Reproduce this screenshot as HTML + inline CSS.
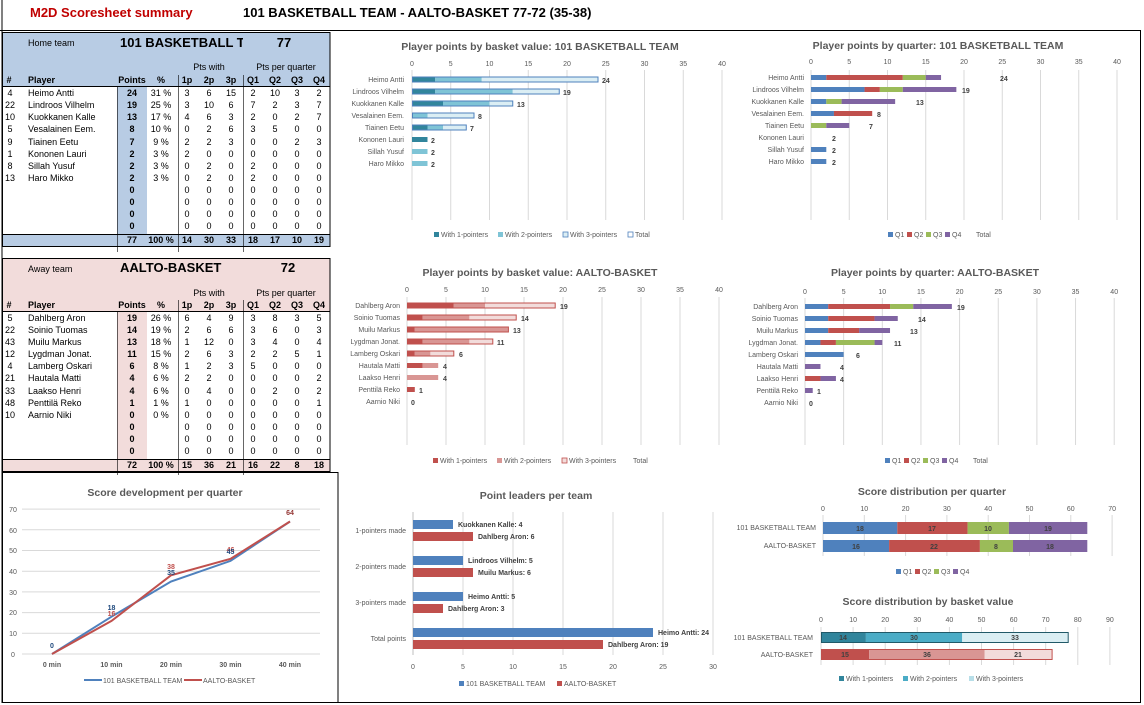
<!DOCTYPE html>
<html><head><meta charset="utf-8"><style>
html,body{margin:0;padding:0;background:#fff}
svg{display:block;font-family:"Liberation Sans",sans-serif}
.t{font-size:9px;fill:#000}
.b{font-weight:bold}
.ax{font-size:7px;fill:#595959}
.ti{font-size:10.5px;font-weight:bold;fill:#595959}
.dl{font-size:7px;font-weight:bold;fill:#404040}
.g{stroke:#d9d9d9;stroke-width:1}
</style></head><body>
<svg width="1144" height="705" viewBox="0 0 1144 705" xmlns="http://www.w3.org/2000/svg">
<rect width="1144" height="705" fill="#fff"/>
<!-- frame -->
<line x1="2" y1="0" x2="2" y2="703" stroke="#000"/>
<line x1="0" y1="30.5" x2="1140" y2="30.5" stroke="#000"/>
<line x1="1140.5" y1="30" x2="1140.5" y2="703" stroke="#000"/>
<line x1="2" y1="702.5" x2="1141" y2="702.5" stroke="#000"/>
<text x="30" y="17" font-size="13" font-weight="bold" fill="#c00000">M2D Scoresheet summary</text>
<text x="243" y="17" font-size="13" font-weight="bold" fill="#000">101 BASKETBALL TEAM - AALTO-BASKET 77-72 (35-38)</text>

<!-- HOME TABLE -->
<rect x="2" y="32" width="328" height="54" fill="#b8cce4"/>
<rect x="117" y="86" width="30" height="148" fill="#b8cce4"/>
<rect x="2" y="234" width="328" height="12" fill="#b8cce4"/>
<rect x="2.5" y="32.5" width="327.5" height="214" fill="none" stroke="#000"/>
<line x1="2" y1="86.5" x2="330" y2="86.5" stroke="#000"/>
<line x1="2" y1="234.5" x2="330" y2="234.5" stroke="#000"/>
<line x1="117.5" y1="86" x2="117.5" y2="252" stroke="#000" stroke-width=".6"/>
<line x1="178.5" y1="75" x2="178.5" y2="252" stroke="#000" stroke-width=".6"/>
<line x1="243.5" y1="75" x2="243.5" y2="252" stroke="#000" stroke-width=".6"/>
<text x="28" y="46" font-size="9" fill="#000">Home team</text>
<text x="120" y="47" font-size="13" font-weight="bold">101 BASKETBALL TEAM</text>
<rect x="243" y="35" width="86" height="16" fill="#b8cce4"/>
<text x="284" y="47" font-size="13" font-weight="bold" text-anchor="middle">77</text>
<text x="209" y="70" class="t" text-anchor="middle" fill="#262626">Pts with</text>
<text x="286" y="70" class="t" text-anchor="middle">Pts per quarter</text>
<g class="t b" text-anchor="middle">
<text x="9" y="83">#</text><text x="28" y="83" text-anchor="start">Player</text><text x="132" y="83">Points</text><text x="161" y="83">%</text>
<text x="187" y="83">1p</text><text x="209" y="83">2p</text><text x="231" y="83">3p</text><text x="253" y="83">Q1</text><text x="275" y="83">Q2</text><text x="297" y="83">Q3</text><text x="319" y="83">Q4</text>
</g>
<g class="t" text-anchor="middle">
<g transform="translate(0,96)"><text x="10">4</text><text x="28" text-anchor="start">Heimo Antti</text><text x="132" class="b">24</text><text x="161">31 %</text><text x="187">3</text><text x="209">6</text><text x="231">15</text><text x="253">2</text><text x="275">10</text><text x="297">3</text><text x="319">2</text></g>
<g transform="translate(0,108)"><text x="10">22</text><text x="28" text-anchor="start">Lindroos Vilhelm</text><text x="132" class="b">19</text><text x="161">25 %</text><text x="187">3</text><text x="209">10</text><text x="231">6</text><text x="253">7</text><text x="275">2</text><text x="297">3</text><text x="319">7</text></g>
<g transform="translate(0,120)"><text x="10">10</text><text x="28" text-anchor="start">Kuokkanen Kalle</text><text x="132" class="b">13</text><text x="161">17 %</text><text x="187">4</text><text x="209">6</text><text x="231">3</text><text x="253">2</text><text x="275">0</text><text x="297">2</text><text x="319">7</text></g>
<g transform="translate(0,132)"><text x="10">5</text><text x="28" text-anchor="start">Vesalainen Eem.</text><text x="132" class="b">8</text><text x="161">10 %</text><text x="187">0</text><text x="209">2</text><text x="231">6</text><text x="253">3</text><text x="275">5</text><text x="297">0</text><text x="319">0</text></g>
<g transform="translate(0,145)"><text x="10">9</text><text x="28" text-anchor="start">Tiainen Eetu</text><text x="132" class="b">7</text><text x="161">9 %</text><text x="187">2</text><text x="209">2</text><text x="231">3</text><text x="253">0</text><text x="275">0</text><text x="297">2</text><text x="319">3</text></g>
<g transform="translate(0,157)"><text x="10">1</text><text x="28" text-anchor="start">Kononen Lauri</text><text x="132" class="b">2</text><text x="161">3 %</text><text x="187">2</text><text x="209">0</text><text x="231">0</text><text x="253">0</text><text x="275">0</text><text x="297">0</text><text x="319">0</text></g>
<g transform="translate(0,169)"><text x="10">8</text><text x="28" text-anchor="start">Sillah Yusuf</text><text x="132" class="b">2</text><text x="161">3 %</text><text x="187">0</text><text x="209">2</text><text x="231">0</text><text x="253">2</text><text x="275">0</text><text x="297">0</text><text x="319">0</text></g>
<g transform="translate(0,181)"><text x="10">13</text><text x="28" text-anchor="start">Haro Mikko</text><text x="132" class="b">2</text><text x="161">3 %</text><text x="187">0</text><text x="209">2</text><text x="231">0</text><text x="253">2</text><text x="275">0</text><text x="297">0</text><text x="319">0</text></g>
<g transform="translate(0,193)"><text x="132" class="b">0</text><text x="187">0</text><text x="209">0</text><text x="231">0</text><text x="253">0</text><text x="275">0</text><text x="297">0</text><text x="319">0</text></g>
<g transform="translate(0,205)"><text x="132" class="b">0</text><text x="187">0</text><text x="209">0</text><text x="231">0</text><text x="253">0</text><text x="275">0</text><text x="297">0</text><text x="319">0</text></g>
<g transform="translate(0,217)"><text x="132" class="b">0</text><text x="187">0</text><text x="209">0</text><text x="231">0</text><text x="253">0</text><text x="275">0</text><text x="297">0</text><text x="319">0</text></g>
<g transform="translate(0,229)"><text x="132" class="b">0</text><text x="187">0</text><text x="209">0</text><text x="231">0</text><text x="253">0</text><text x="275">0</text><text x="297">0</text><text x="319">0</text></g>
<g transform="translate(0,243)" class="b"><text x="132">77</text><text x="161">100 %</text><text x="187">14</text><text x="209">30</text><text x="231">33</text><text x="253">18</text><text x="275">17</text><text x="297">10</text><text x="319">19</text></g>
</g>

<!-- AWAY TABLE -->
<rect x="2" y="258" width="328" height="53" fill="#f2dcdb"/>
<rect x="117" y="311" width="30" height="148" fill="#f2dcdb"/>
<rect x="2" y="459" width="328" height="12" fill="#f2dcdb"/>
<rect x="2.5" y="258.5" width="327.5" height="213" fill="none" stroke="#000"/>
<line x1="2" y1="311.5" x2="330" y2="311.5" stroke="#000"/>
<line x1="2" y1="459.5" x2="330" y2="459.5" stroke="#000"/>
<line x1="117.5" y1="311" x2="117.5" y2="475" stroke="#000" stroke-width=".6"/>
<line x1="178.5" y1="300" x2="178.5" y2="475" stroke="#000" stroke-width=".6"/>
<line x1="243.5" y1="300" x2="243.5" y2="475" stroke="#000" stroke-width=".6"/>
<text x="28" y="272" font-size="9">Away team</text>
<text x="120" y="272" font-size="13" font-weight="bold">AALTO-BASKET</text>
<text x="288" y="272" font-size="13" font-weight="bold" text-anchor="middle">72</text>
<text x="209" y="296" class="t" text-anchor="middle">Pts with</text>
<text x="286" y="296" class="t" text-anchor="middle">Pts per quarter</text>
<g class="t b" text-anchor="middle">
<text x="9" y="308">#</text><text x="28" y="308" text-anchor="start">Player</text><text x="132" y="308">Points</text><text x="161" y="308">%</text>
<text x="187" y="308">1p</text><text x="209" y="308">2p</text><text x="231" y="308">3p</text><text x="253" y="308">Q1</text><text x="275" y="308">Q2</text><text x="297" y="308">Q3</text><text x="319" y="308">Q4</text>
</g>
<g class="t" text-anchor="middle">
<g transform="translate(0,321)"><text x="10">5</text><text x="28" text-anchor="start">Dahlberg Aron</text><text x="132" class="b">19</text><text x="161">26 %</text><text x="187">6</text><text x="209">4</text><text x="231">9</text><text x="253">3</text><text x="275">8</text><text x="297">3</text><text x="319">5</text></g>
<g transform="translate(0,333)"><text x="10">22</text><text x="28" text-anchor="start">Soinio Tuomas</text><text x="132" class="b">14</text><text x="161">19 %</text><text x="187">2</text><text x="209">6</text><text x="231">6</text><text x="253">3</text><text x="275">6</text><text x="297">0</text><text x="319">3</text></g>
<g transform="translate(0,345)"><text x="10">43</text><text x="28" text-anchor="start">Muilu Markus</text><text x="132" class="b">13</text><text x="161">18 %</text><text x="187">1</text><text x="209">12</text><text x="231">0</text><text x="253">3</text><text x="275">4</text><text x="297">0</text><text x="319">4</text></g>
<g transform="translate(0,357)"><text x="10">12</text><text x="28" text-anchor="start">Lygdman Jonat.</text><text x="132" class="b">11</text><text x="161">15 %</text><text x="187">2</text><text x="209">6</text><text x="231">3</text><text x="253">2</text><text x="275">2</text><text x="297">5</text><text x="319">1</text></g>
<g transform="translate(0,369)"><text x="10">4</text><text x="28" text-anchor="start">Lamberg Oskari</text><text x="132" class="b">6</text><text x="161">8 %</text><text x="187">1</text><text x="209">2</text><text x="231">3</text><text x="253">5</text><text x="275">0</text><text x="297">0</text><text x="319">0</text></g>
<g transform="translate(0,381)"><text x="10">21</text><text x="28" text-anchor="start">Hautala Matti</text><text x="132" class="b">4</text><text x="161">6 %</text><text x="187">2</text><text x="209">2</text><text x="231">0</text><text x="253">0</text><text x="275">0</text><text x="297">0</text><text x="319">2</text></g>
<g transform="translate(0,394)"><text x="10">33</text><text x="28" text-anchor="start">Laakso Henri</text><text x="132" class="b">4</text><text x="161">6 %</text><text x="187">0</text><text x="209">4</text><text x="231">0</text><text x="253">0</text><text x="275">2</text><text x="297">0</text><text x="319">2</text></g>
<g transform="translate(0,406)"><text x="10">48</text><text x="28" text-anchor="start">Penttilä Reko</text><text x="132" class="b">1</text><text x="161">1 %</text><text x="187">1</text><text x="209">0</text><text x="231">0</text><text x="253">0</text><text x="275">0</text><text x="297">0</text><text x="319">1</text></g>
<g transform="translate(0,418)"><text x="10">10</text><text x="28" text-anchor="start">Aarnio Niki</text><text x="132" class="b">0</text><text x="161">0 %</text><text x="187">0</text><text x="209">0</text><text x="231">0</text><text x="253">0</text><text x="275">0</text><text x="297">0</text><text x="319">0</text></g>
<g transform="translate(0,430)"><text x="132" class="b">0</text><text x="187">0</text><text x="209">0</text><text x="231">0</text><text x="253">0</text><text x="275">0</text><text x="297">0</text><text x="319">0</text></g>
<g transform="translate(0,442)"><text x="132" class="b">0</text><text x="187">0</text><text x="209">0</text><text x="231">0</text><text x="253">0</text><text x="275">0</text><text x="297">0</text><text x="319">0</text></g>
<g transform="translate(0,454)"><text x="132" class="b">0</text><text x="187">0</text><text x="209">0</text><text x="231">0</text><text x="253">0</text><text x="275">0</text><text x="297">0</text><text x="319">0</text></g>
<g transform="translate(0,468)" class="b"><text x="132">72</text><text x="161">100 %</text><text x="187">15</text><text x="209">36</text><text x="231">21</text><text x="253">16</text><text x="275">22</text><text x="297">8</text><text x="319">18</text></g>
</g>

<!-- CHART 1 -->
<text x="540" y="50" class="ti" text-anchor="middle">Player points by basket value: 101 BASKETBALL TEAM</text>
<g class="g"><line x1="412" y1="70" x2="412" y2="220"/><line x1="450.75" y1="70" x2="450.75" y2="220"/><line x1="489.5" y1="70" x2="489.5" y2="220"/><line x1="528.25" y1="70" x2="528.25" y2="220"/><line x1="567" y1="70" x2="567" y2="220"/><line x1="605.75" y1="70" x2="605.75" y2="220"/><line x1="644.5" y1="70" x2="644.5" y2="220"/><line x1="683.25" y1="70" x2="683.25" y2="220"/><line x1="722" y1="70" x2="722" y2="220"/></g>
<g class="ax" text-anchor="middle"><text x="412" y="66">0</text><text x="450.75" y="66">5</text><text x="489.5" y="66">10</text><text x="528.25" y="66">15</text><text x="567" y="66">20</text><text x="605.75" y="66">25</text><text x="644.5" y="66">30</text><text x="683.25" y="66">35</text><text x="722" y="66">40</text></g>
<g class="ax" text-anchor="end"><text x="404" y="82">Heimo Antti</text><text x="404" y="94">Lindroos Vilhelm</text><text x="404" y="106">Kuokkanen Kalle</text><text x="404" y="118">Vesalainen Eem.</text><text x="404" y="130">Tiainen Eetu</text><text x="404" y="142">Kononen Lauri</text><text x="404" y="154">Sillah Yusuf</text><text x="404" y="166">Haro Mikko</text></g>
<g>
<rect x="412" y="77" width="23.25" height="5" fill="#31859c"/><rect x="435.25" y="77" width="46.5" height="5" fill="#7fc4d6"/><rect x="481.75" y="77" width="116.25" height="5" fill="#dbeef4"/><rect x="412.5" y="77" width="185.5" height="5" fill="none" stroke="#4f81bd"/>
<rect x="412" y="89" width="23.25" height="5" fill="#31859c"/><rect x="435.25" y="89" width="77.5" height="5" fill="#7fc4d6"/><rect x="512.75" y="89" width="46.5" height="5" fill="#dbeef4"/><rect x="412.5" y="89" width="146.75" height="5" fill="none" stroke="#4f81bd"/>
<rect x="412" y="101" width="31" height="5" fill="#31859c"/><rect x="443" y="101" width="46.5" height="5" fill="#7fc4d6"/><rect x="489.5" y="101" width="23.25" height="5" fill="#dbeef4"/><rect x="412.5" y="101" width="100.25" height="5" fill="none" stroke="#4f81bd"/>
<rect x="412" y="113" width="15.5" height="5" fill="#7fc4d6"/><rect x="427.5" y="113" width="46.5" height="5" fill="#dbeef4"/><rect x="412.5" y="113" width="61.5" height="5" fill="none" stroke="#4f81bd"/>
<rect x="412" y="125" width="15.5" height="5" fill="#31859c"/><rect x="427.5" y="125" width="15.5" height="5" fill="#7fc4d6"/><rect x="443" y="125" width="23.25" height="5" fill="#dbeef4"/><rect x="412.5" y="125" width="53.75" height="5" fill="none" stroke="#4f81bd"/>
<rect x="412" y="137" width="15.5" height="5" fill="#31859c"/>
<rect x="412" y="149" width="15.5" height="5" fill="#7fc4d6"/><rect x="412" y="161" width="15.5" height="5" fill="#7fc4d6"/>
</g>
<g class="dl"><text x="602" y="83">24</text><text x="563" y="95">19</text><text x="517" y="107">13</text><text x="478" y="119">8</text><text x="470" y="131">7</text><text x="431" y="143">2</text><text x="431" y="155">2</text><text x="431" y="167">2</text></g>
<g class="ax"><rect x="434" y="232" width="5" height="5" fill="#31859c"/><text x="441" y="237">With 1-pointers</text><rect x="498" y="232" width="5" height="5" fill="#7fc4d6"/><text x="505" y="237">With 2-pointers</text><rect x="563" y="232" width="5" height="5" fill="#dbeef4" stroke="#4f81bd" stroke-width=".8"/><text x="570" y="237">With 3-pointers</text><rect x="628" y="232" width="5" height="5" fill="#fff" stroke="#4f81bd" stroke-width=".8"/><text x="635" y="237">Total</text></g>

<!-- CHART 2 -->
<text x="938" y="49" class="ti" text-anchor="middle">Player points by quarter: 101 BASKETBALL TEAM</text>
<g class="g"><line x1="811" y1="70" x2="811" y2="220"/><line x1="849.25" y1="70" x2="849.25" y2="220"/><line x1="887.5" y1="70" x2="887.5" y2="220"/><line x1="925.75" y1="70" x2="925.75" y2="220"/><line x1="964" y1="70" x2="964" y2="220"/><line x1="1002.25" y1="70" x2="1002.25" y2="220"/><line x1="1040.5" y1="70" x2="1040.5" y2="220"/><line x1="1078.75" y1="70" x2="1078.75" y2="220"/><line x1="1117" y1="70" x2="1117" y2="220"/></g>
<g class="ax" text-anchor="middle"><text x="811" y="64">0</text><text x="849.25" y="64">5</text><text x="887.5" y="64">10</text><text x="925.75" y="64">15</text><text x="964" y="64">20</text><text x="1002.25" y="64">25</text><text x="1040.5" y="64">30</text><text x="1078.75" y="64">35</text><text x="1117" y="64">40</text></g>
<g class="ax" text-anchor="end"><text x="804" y="80">Heimo Antti</text><text x="804" y="92">Lindroos Vilhelm</text><text x="804" y="104">Kuokkanen Kalle</text><text x="804" y="116">Vesalainen Eem.</text><text x="804" y="128">Tiainen Eetu</text><text x="804" y="140">Kononen Lauri</text><text x="804" y="152">Sillah Yusuf</text><text x="804" y="164">Haro Mikko</text></g>
<g>
<rect x="811" y="75" width="15.3" height="5" fill="#4f81bd"/><rect x="826.3" y="75" width="76.5" height="5" fill="#c0504d"/><rect x="902.8" y="75" width="22.95" height="5" fill="#9bbb59"/><rect x="925.75" y="75" width="15.3" height="5" fill="#8064a2"/>
<rect x="811" y="87" width="53.55" height="5" fill="#4f81bd"/><rect x="864.55" y="87" width="15.3" height="5" fill="#c0504d"/><rect x="879.85" y="87" width="22.95" height="5" fill="#9bbb59"/><rect x="902.8" y="87" width="53.55" height="5" fill="#8064a2"/>
<rect x="811" y="99" width="15.3" height="5" fill="#4f81bd"/><rect x="826.3" y="99" width="15.3" height="5" fill="#9bbb59"/><rect x="841.6" y="99" width="53.55" height="5" fill="#8064a2"/>
<rect x="811" y="111" width="22.95" height="5" fill="#4f81bd"/><rect x="833.95" y="111" width="38.25" height="5" fill="#c0504d"/>
<rect x="811" y="123" width="15.3" height="5" fill="#9bbb59"/><rect x="826.3" y="123" width="22.95" height="5" fill="#8064a2"/>
<rect x="811" y="147" width="15.3" height="5" fill="#4f81bd"/><rect x="811" y="159" width="15.3" height="5" fill="#4f81bd"/>
</g>
<g class="dl"><text x="1000" y="81">24</text><text x="962" y="93">19</text><text x="916" y="105">13</text><text x="877" y="117">8</text><text x="869" y="129">7</text><text x="832" y="141">2</text><text x="832" y="153">2</text><text x="832" y="165">2</text></g>
<g class="ax"><rect x="888" y="232" width="5" height="5" fill="#4f81bd"/><text x="895" y="237">Q1</text><rect x="907" y="232" width="5" height="5" fill="#c0504d"/><text x="914" y="237">Q2</text><rect x="926" y="232" width="5" height="5" fill="#9bbb59"/><text x="933" y="237">Q3</text><rect x="945" y="232" width="5" height="5" fill="#8064a2"/><text x="952" y="237">Q4</text><text x="976" y="237">Total</text></g>

<!-- CHART 3 -->
<text x="540" y="276" class="ti" text-anchor="middle">Player points by basket value: AALTO-BASKET</text>
<g class="g"><line x1="407" y1="297" x2="407" y2="445"/><line x1="446" y1="297" x2="446" y2="445"/><line x1="485" y1="297" x2="485" y2="445"/><line x1="524" y1="297" x2="524" y2="445"/><line x1="563" y1="297" x2="563" y2="445"/><line x1="602" y1="297" x2="602" y2="445"/><line x1="641" y1="297" x2="641" y2="445"/><line x1="680" y1="297" x2="680" y2="445"/><line x1="719" y1="297" x2="719" y2="445"/></g>
<g class="ax" text-anchor="middle"><text x="407" y="292">0</text><text x="446" y="292">5</text><text x="485" y="292">10</text><text x="524" y="292">15</text><text x="563" y="292">20</text><text x="602" y="292">25</text><text x="641" y="292">30</text><text x="680" y="292">35</text><text x="719" y="292">40</text></g>
<g class="ax" text-anchor="end"><text x="400" y="308">Dahlberg Aron</text><text x="400" y="320">Soinio Tuomas</text><text x="400" y="332">Muilu Markus</text><text x="400" y="344">Lygdman Jonat.</text><text x="400" y="356">Lamberg Oskari</text><text x="400" y="368">Hautala Matti</text><text x="400" y="380">Laakso Henri</text><text x="400" y="392">Penttilä Reko</text><text x="400" y="404">Aarnio Niki</text></g>
<g>
<rect x="407" y="303" width="46.8" height="5" fill="#c0504d"/><rect x="453.8" y="303" width="31.2" height="5" fill="#d99694"/><rect x="485" y="303" width="70.2" height="5" fill="#f2dcdb"/><rect x="407.5" y="303" width="147.7" height="5" fill="none" stroke="#c0504d"/>
<rect x="407" y="315" width="15.6" height="5" fill="#c0504d"/><rect x="422.6" y="315" width="46.8" height="5" fill="#d99694"/><rect x="469.4" y="315" width="46.8" height="5" fill="#f2dcdb"/><rect x="407.5" y="315" width="108.7" height="5" fill="none" stroke="#c0504d"/>
<rect x="407" y="327" width="7.8" height="5" fill="#c0504d"/><rect x="414.8" y="327" width="93.6" height="5" fill="#d99694"/><rect x="407.5" y="327" width="100.9" height="5" fill="none" stroke="#c0504d"/>
<rect x="407" y="339" width="15.6" height="5" fill="#c0504d"/><rect x="422.6" y="339" width="46.8" height="5" fill="#d99694"/><rect x="469.4" y="339" width="23.4" height="5" fill="#f2dcdb"/><rect x="407.5" y="339" width="85.3" height="5" fill="none" stroke="#c0504d"/>
<rect x="407" y="351" width="7.8" height="5" fill="#c0504d"/><rect x="414.8" y="351" width="15.6" height="5" fill="#d99694"/><rect x="430.4" y="351" width="23.4" height="5" fill="#f2dcdb"/><rect x="407.5" y="351" width="46.3" height="5" fill="none" stroke="#c0504d"/>
<rect x="407" y="363" width="15.6" height="5" fill="#c0504d"/><rect x="422.6" y="363" width="15.6" height="5" fill="#d99694"/>
<rect x="407" y="375" width="31.2" height="5" fill="#d99694"/>
<rect x="407" y="387" width="7.8" height="5" fill="#c0504d"/>
</g>
<g class="dl"><text x="560" y="309">19</text><text x="521" y="321">14</text><text x="513" y="333">13</text><text x="497" y="345">11</text><text x="459" y="357">6</text><text x="443" y="369">4</text><text x="443" y="381">4</text><text x="419" y="393">1</text><text x="411" y="405">0</text></g>
<g class="ax"><rect x="433" y="458" width="5" height="5" fill="#c0504d"/><text x="440" y="463">With 1-pointers</text><rect x="497" y="458" width="5" height="5" fill="#d99694"/><text x="504" y="463">With 2-pointers</text><rect x="562" y="458" width="5" height="5" fill="#f2dcdb" stroke="#c0504d" stroke-width=".8"/><text x="569" y="463">With 3-pointers</text><text x="633" y="463">Total</text></g>

<!-- CHART 4 -->
<text x="935" y="276" class="ti" text-anchor="middle">Player points by quarter: AALTO-BASKET</text>
<g class="g"><line x1="805" y1="298" x2="805" y2="445"/><line x1="843.65" y1="298" x2="843.65" y2="445"/><line x1="882.3" y1="298" x2="882.3" y2="445"/><line x1="920.95" y1="298" x2="920.95" y2="445"/><line x1="959.6" y1="298" x2="959.6" y2="445"/><line x1="998.25" y1="298" x2="998.25" y2="445"/><line x1="1036.9" y1="298" x2="1036.9" y2="445"/><line x1="1075.55" y1="298" x2="1075.55" y2="445"/><line x1="1114.2" y1="298" x2="1114.2" y2="445"/></g>
<g class="ax" text-anchor="middle"><text x="805" y="294">0</text><text x="843.65" y="294">5</text><text x="882.3" y="294">10</text><text x="920.95" y="294">15</text><text x="959.6" y="294">20</text><text x="998.25" y="294">25</text><text x="1036.9" y="294">30</text><text x="1075.55" y="294">35</text><text x="1114.2" y="294">40</text></g>
<g class="ax" text-anchor="end"><text x="798" y="309">Dahlberg Aron</text><text x="798" y="321">Soinio Tuomas</text><text x="798" y="333">Muilu Markus</text><text x="798" y="345">Lygdman Jonat.</text><text x="798" y="357">Lamberg Oskari</text><text x="798" y="369">Hautala Matti</text><text x="798" y="381">Laakso Henri</text><text x="798" y="393">Penttilä Reko</text><text x="798" y="405">Aarnio Niki</text></g>
<g>
<rect x="805" y="304" width="23.19" height="5" fill="#4f81bd"/><rect x="828.19" y="304" width="61.84" height="5" fill="#c0504d"/><rect x="890.03" y="304" width="23.19" height="5" fill="#9bbb59"/><rect x="913.22" y="304" width="38.65" height="5" fill="#8064a2"/>
<rect x="805" y="316" width="23.19" height="5" fill="#4f81bd"/><rect x="828.19" y="316" width="46.38" height="5" fill="#c0504d"/><rect x="874.57" y="316" width="23.19" height="5" fill="#8064a2"/>
<rect x="805" y="328" width="23.19" height="5" fill="#4f81bd"/><rect x="828.19" y="328" width="30.92" height="5" fill="#c0504d"/><rect x="859.11" y="328" width="30.92" height="5" fill="#8064a2"/>
<rect x="805" y="340" width="15.46" height="5" fill="#4f81bd"/><rect x="820.46" y="340" width="15.46" height="5" fill="#c0504d"/><rect x="835.92" y="340" width="38.65" height="5" fill="#9bbb59"/><rect x="874.57" y="340" width="7.73" height="5" fill="#8064a2"/>
<rect x="805" y="352" width="38.65" height="5" fill="#4f81bd"/>
<rect x="805" y="364" width="15.46" height="5" fill="#8064a2"/>
<rect x="805" y="376" width="15.46" height="5" fill="#c0504d"/><rect x="820.46" y="376" width="15.46" height="5" fill="#8064a2"/>
<rect x="805" y="388" width="7.73" height="5" fill="#8064a2"/>
</g>
<g class="dl"><text x="957" y="310">19</text><text x="918" y="322">14</text><text x="910" y="334">13</text><text x="894" y="346">11</text><text x="856" y="358">6</text><text x="840" y="370">4</text><text x="840" y="382">4</text><text x="817" y="394">1</text><text x="809" y="406">0</text></g>
<g class="ax"><rect x="885" y="458" width="5" height="5" fill="#4f81bd"/><text x="892" y="463">Q1</text><rect x="904" y="458" width="5" height="5" fill="#c0504d"/><text x="911" y="463">Q2</text><rect x="923" y="458" width="5" height="5" fill="#9bbb59"/><text x="930" y="463">Q3</text><rect x="942" y="458" width="5" height="5" fill="#8064a2"/><text x="949" y="463">Q4</text><text x="973" y="463">Total</text></g>

<!-- LINE CHART -->
<rect x="2.5" y="472.5" width="335.5" height="230" fill="none" stroke="#000"/>
<text x="165" y="496" class="ti" text-anchor="middle">Score development per quarter</text>
<g class="g"><line x1="22" y1="654" x2="320" y2="654"/><line x1="22" y1="633.3" x2="320" y2="633.3"/><line x1="22" y1="612.6" x2="320" y2="612.6"/><line x1="22" y1="591.9" x2="320" y2="591.9"/><line x1="22" y1="571.2" x2="320" y2="571.2"/><line x1="22" y1="550.5" x2="320" y2="550.5"/><line x1="22" y1="529.8" x2="320" y2="529.8"/><line x1="22" y1="509.1" x2="320" y2="509.1"/></g>
<g class="ax" text-anchor="middle"><text x="13" y="657">0</text><text x="13" y="636">10</text><text x="13" y="615">20</text><text x="13" y="595">30</text><text x="13" y="574">40</text><text x="13" y="553">50</text><text x="13" y="533">60</text><text x="13" y="512">70</text></g>
<g class="ax b" text-anchor="middle" fill="#404040"><text x="52" y="667">0 min</text><text x="111.5" y="667">10 min</text><text x="171" y="667">20 min</text><text x="230.5" y="667">30 min</text><text x="290" y="667">40 min</text></g>
<polyline points="52,654 111.5,616.7 171,581.5 230.5,560.9 290,521.5" fill="none" stroke="#4f81bd" stroke-width="2"/>
<polyline points="52,654 111.5,620.9 171,575.3 230.5,558.8 290,521.5" fill="none" stroke="#c0504d" stroke-width="2"/>
<g class="dl" text-anchor="middle"><text x="52" y="648" fill="#1f497d">0</text><text x="111.5" y="610" fill="#1f497d">18</text><text x="111.5" y="616" fill="#c0504d">16</text><text x="171" y="569" fill="#c0504d">38</text><text x="171" y="575" fill="#1f497d">35</text><text x="230.5" y="552" fill="#c0504d">46</text><text x="230.5" y="554" fill="#1f497d">45</text><text x="290" y="515" fill="#943634">64</text></g>
<g class="ax"><line x1="84" y1="680" x2="102" y2="680" stroke="#4f81bd" stroke-width="2"/><text x="103" y="683">101 BASKETBALL TEAM</text><line x1="184" y1="680" x2="202" y2="680" stroke="#c0504d" stroke-width="2"/><text x="203" y="683">AALTO-BASKET</text></g>

<!-- POINT LEADERS -->
<text x="536" y="499" class="ti" text-anchor="middle">Point leaders per team</text>
<g class="g"><line x1="413" y1="512" x2="413" y2="655"/><line x1="463" y1="512" x2="463" y2="655"/><line x1="513" y1="512" x2="513" y2="655"/><line x1="563" y1="512" x2="563" y2="655"/><line x1="613" y1="512" x2="613" y2="655"/><line x1="663" y1="512" x2="663" y2="655"/><line x1="713" y1="512" x2="713" y2="655"/></g>
<line x1="413" y1="512" x2="413" y2="655" stroke="#bfbfbf"/>
<g class="ax" text-anchor="middle"><text x="413" y="669">0</text><text x="463" y="669">5</text><text x="513" y="669">10</text><text x="563" y="669">15</text><text x="613" y="669">20</text><text x="663" y="669">25</text><text x="713" y="669">30</text></g>
<g class="ax" text-anchor="end"><text x="406" y="533">1-pointers made</text><text x="406" y="569">2-pointers made</text><text x="406" y="605">3-pointers made</text><text x="406" y="641">Total points</text></g>
<rect x="413" y="520" width="40" height="9" fill="#4f81bd"/><rect x="413" y="532" width="60" height="9" fill="#c0504d"/>
<rect x="413" y="556" width="50" height="9" fill="#4f81bd"/><rect x="413" y="568" width="60" height="9" fill="#c0504d"/>
<rect x="413" y="592" width="50" height="9" fill="#4f81bd"/><rect x="413" y="604" width="30" height="9" fill="#c0504d"/>
<rect x="413" y="628" width="240" height="9" fill="#4f81bd"/><rect x="413" y="640" width="190" height="9" fill="#c0504d"/>
<g class="dl"><text x="458" y="527">Kuokkanen Kalle: 4</text><text x="478" y="539">Dahlberg Aron: 6</text><text x="468" y="563">Lindroos Vilhelm: 5</text><text x="478" y="575">Muilu Markus: 6</text><text x="468" y="599">Heimo Antti: 5</text><text x="448" y="611">Dahlberg Aron: 3</text><text x="658" y="635">Heimo Antti: 24</text><text x="608" y="647">Dahlberg Aron: 19</text></g>
<g class="ax"><rect x="459" y="681" width="5" height="5" fill="#4f81bd"/><text x="466" y="686">101 BASKETBALL TEAM</text><rect x="557" y="681" width="5" height="5" fill="#c0504d"/><text x="564" y="686">AALTO-BASKET</text></g>

<!-- SCORE DIST QUARTER -->
<text x="932" y="495" class="ti" text-anchor="middle">Score distribution per quarter</text>
<g class="g"><line x1="823" y1="515" x2="823" y2="556"/><line x1="864.3" y1="515" x2="864.3" y2="556"/><line x1="905.6" y1="515" x2="905.6" y2="556"/><line x1="946.9" y1="515" x2="946.9" y2="556"/><line x1="988.2" y1="515" x2="988.2" y2="556"/><line x1="1029.5" y1="515" x2="1029.5" y2="556"/><line x1="1070.8" y1="515" x2="1070.8" y2="556"/><line x1="1112.1" y1="515" x2="1112.1" y2="556"/></g>
<g class="ax" text-anchor="middle"><text x="823" y="511">0</text><text x="864.3" y="511">10</text><text x="905.6" y="511">20</text><text x="946.9" y="511">30</text><text x="988.2" y="511">40</text><text x="1029.5" y="511">50</text><text x="1070.8" y="511">60</text><text x="1112.1" y="511">70</text></g>
<g class="ax" text-anchor="end"><text x="816" y="530">101 BASKETBALL TEAM</text><text x="816" y="548">AALTO-BASKET</text></g>
<rect x="823" y="522" width="74.3" height="12" fill="#4f81bd"/><rect x="897.3" y="522" width="70.3" height="12" fill="#c0504d"/><rect x="967.6" y="522" width="41.3" height="12" fill="#9bbb59"/><rect x="1008.9" y="522" width="78.4" height="12" fill="#8064a2"/>
<rect x="823" y="540" width="66.1" height="12" fill="#4f81bd"/><rect x="889.1" y="540" width="90.8" height="12" fill="#c0504d"/><rect x="979.9" y="540" width="33.1" height="12" fill="#9bbb59"/><rect x="1013" y="540" width="74.3" height="12" fill="#8064a2"/>
<g class="dl" text-anchor="middle" fill="#404040"><text x="860" y="531">18</text><text x="932" y="531">17</text><text x="988" y="531">10</text><text x="1048" y="531">19</text><text x="856" y="549">16</text><text x="934" y="549">22</text><text x="996" y="549">8</text><text x="1050" y="549">18</text></g>
<g class="ax"><rect x="896" y="569" width="5" height="5" fill="#4f81bd"/><text x="903" y="574">Q1</text><rect x="915" y="569" width="5" height="5" fill="#c0504d"/><text x="922" y="574">Q2</text><rect x="934" y="569" width="5" height="5" fill="#9bbb59"/><text x="941" y="574">Q3</text><rect x="953" y="569" width="5" height="5" fill="#8064a2"/><text x="960" y="574">Q4</text></g>

<!-- SCORE DIST BASKET -->
<text x="928" y="605" class="ti" text-anchor="middle">Score distribution by basket value</text>
<g class="g"><line x1="821" y1="627" x2="821" y2="665"/><line x1="853.1" y1="627" x2="853.1" y2="665"/><line x1="885.2" y1="627" x2="885.2" y2="665"/><line x1="917.3" y1="627" x2="917.3" y2="665"/><line x1="949.4" y1="627" x2="949.4" y2="665"/><line x1="981.5" y1="627" x2="981.5" y2="665"/><line x1="1013.6" y1="627" x2="1013.6" y2="665"/><line x1="1045.7" y1="627" x2="1045.7" y2="665"/><line x1="1077.8" y1="627" x2="1077.8" y2="665"/><line x1="1109.9" y1="627" x2="1109.9" y2="665"/></g>
<g class="ax" text-anchor="middle"><text x="821" y="622">0</text><text x="853.1" y="622">10</text><text x="885.2" y="622">20</text><text x="917.3" y="622">30</text><text x="949.4" y="622">40</text><text x="981.5" y="622">50</text><text x="1013.6" y="622">60</text><text x="1045.7" y="622">70</text><text x="1077.8" y="622">80</text><text x="1109.9" y="622">90</text></g>
<g class="ax" text-anchor="end"><text x="813" y="640">101 BASKETBALL TEAM</text><text x="813" y="657">AALTO-BASKET</text></g>
<rect x="821" y="632" width="44.9" height="11" fill="#31859c"/><rect x="865.9" y="632" width="96.3" height="11" fill="#4bacc6"/><rect x="962.2" y="632" width="106" height="11" fill="#daeef3"/><rect x="821.5" y="632.5" width="246.7" height="10" fill="none" stroke="#215968"/>
<rect x="821" y="649" width="48.2" height="11" fill="#c0504d"/><rect x="869.2" y="649" width="115.5" height="11" fill="#d99694"/><rect x="984.7" y="649" width="67.4" height="11" fill="#f2dcdb"/><rect x="821.5" y="649.5" width="230.6" height="10" fill="none" stroke="#c0504d"/>
<g class="dl" text-anchor="middle" fill="#262626"><text x="843" y="640">14</text><text x="914" y="640">30</text><text x="1015" y="640">33</text><text x="845" y="657">15</text><text x="927" y="657">36</text><text x="1018" y="657">21</text></g>
<g class="ax"><rect x="839" y="676" width="5" height="5" fill="#31859c"/><text x="846" y="681">With 1-pointers</text><rect x="903" y="676" width="5" height="5" fill="#4bacc6"/><text x="910" y="681">With 2-pointers</text><rect x="969" y="676" width="5" height="5" fill="#b7dee8"/><text x="976" y="681">With 3-pointers</text></g>
</svg>
</body></html>
